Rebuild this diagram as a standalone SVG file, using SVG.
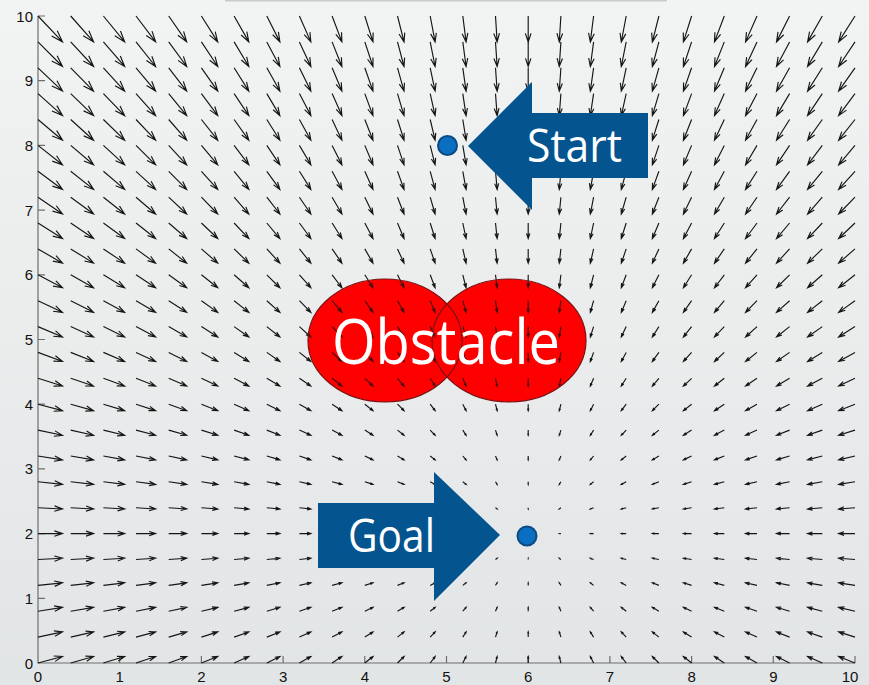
<svg xmlns="http://www.w3.org/2000/svg" xmlns:xlink="http://www.w3.org/1999/xlink" width="869" height="685" viewBox="0 0 869 685">
  <defs>
    <linearGradient id="bg" x1="0" y1="0" x2="0" y2="1">
      <stop offset="0" stop-color="#f2f3f3"/>
      <stop offset="1" stop-color="#e2e5e6"/>
    </linearGradient>
    <!-- unit quiver arrow: tail at origin, tip at (1,0); scaled/rotated per grid point -->
    <path id="v" d="M0 0H1M.67-.11L1 0 .67.11"/>
  </defs>
  <style>
    .tick { font-family: "Liberation Sans", Arial, sans-serif; font-size: 15px; fill: #111; }
    .axis { stroke: #6e6e6e; stroke-width: 1.2; fill: none; }
    .quiver { fill: none; stroke: #151515; stroke-width: 1.15; }
    #v { fill: none; vector-effect: non-scaling-stroke; }
    .obs { fill: #ff0000; }
    .obs-edge { fill: none; stroke: #7a1214; stroke-width: 1.2; }
    .obs-tint { fill: #ff0000; fill-opacity: 0.2; }
    .callout { fill: #04558f; }
    .callout-text { font-family: "Open Sans", "Noto Sans", sans-serif; fill: #ffffff; }
    .pt { fill: #0a6fc2; stroke: #0c4a84; stroke-width: 2; }
  </style>

  <rect width="869" height="685" fill="url(#bg)"/>
  <rect x="225" y="0" width="442" height="1.5" fill="#c9cbcb"/>

  <!-- axes -->
  <g id="axes">
    <path class="axis" d="M38 16V663H855"/>
    <path class="axis" d="M38 598.3h7M38 533.6h7M38 468.9h7M38 404.2h7M38 339.5h7M38 274.8h7M38 210.1h7M38 145.4h7M38 80.7h7M38 16h7"/>
    <path class="axis" d="M119.7 663v-7M201.4 663v-7M283.1 663v-7M364.8 663v-7M446.5 663v-7M528.2 663v-7M609.9 663v-7M691.6 663v-7M773.3 663v-7M855 663v-7"/>
    <g class="tick" text-anchor="end">
      <text x="33" y="668.5">0</text>
      <text x="33" y="603.8">1</text>
      <text x="33" y="539.1">2</text>
      <text x="33" y="474.4">3</text>
      <text x="33" y="409.7">4</text>
      <text x="33" y="345">5</text>
      <text x="33" y="280.3">6</text>
      <text x="33" y="215.6">7</text>
      <text x="33" y="150.9">8</text>
      <text x="33" y="86.2">9</text>
      <text x="33" y="21.5">10</text>
    </g>
    <g class="tick" text-anchor="middle">
      <text x="38" y="681.5">0</text>
      <text x="119.7" y="681.5">1</text>
      <text x="201.4" y="681.5">2</text>
      <text x="283.1" y="681.5">3</text>
      <text x="364.8" y="681.5">4</text>
      <text x="446.5" y="681.5">5</text>
      <text x="528.2" y="681.5">6</text>
      <text x="609.9" y="681.5">7</text>
      <text x="691.6" y="681.5">8</text>
      <text x="773.3" y="681.5">9</text>
      <text x="850" y="681.5">10</text>
    </g>
  </g>

  <!-- obstacle discs (fill under the field) -->
  <g id="obstacle-fill">
    <ellipse class="obs" cx="385" cy="340.5" rx="77" ry="61.5"/>
    <ellipse class="obs" cx="509" cy="340.5" rx="77" ry="61.5"/>
  </g>

  <!-- potential field vectors, one row per y value -->
  <g class="quiver" id="connectors">
    <g transform="translate(0 16)">
      <use href="#v" transform="matrix(24.51 25.88 -25.88 24.51 38 0)"/><use href="#v" transform="matrix(22.88 25.88 -25.88 22.88 70.7 0)"/><use href="#v" transform="matrix(21.24 25.88 -25.88 21.24 103.4 0)"/><use href="#v" transform="matrix(19.61 25.88 -25.88 19.61 136 0)"/><use href="#v" transform="matrix(17.98 25.88 -25.88 17.98 168.7 0)"/><use href="#v" transform="matrix(16.34 25.88 -25.88 16.34 201.4 0)"/><use href="#v" transform="matrix(14.71 25.88 -25.88 14.71 234.1 0)"/><use href="#v" transform="matrix(13.07 25.88 -25.88 13.07 266.8 0)"/><use href="#v" transform="matrix(11.44 25.88 -25.88 11.44 299.4 0)"/><use href="#v" transform="matrix(9.8 25.88 -25.88 9.8 332.1 0)"/><use href="#v" transform="matrix(8.17 25.88 -25.88 8.17 364.8 0)"/><use href="#v" transform="matrix(6.54 25.88 -25.88 6.54 397.5 0)"/><use href="#v" transform="matrix(4.9 25.88 -25.88 4.9 430.2 0)"/><use href="#v" transform="matrix(3.27 25.88 -25.88 3.27 462.8 0)"/><use href="#v" transform="matrix(1.63 25.88 -25.88 1.63 495.5 0)"/><use href="#v" transform="matrix(0 25.88 -25.88 0 528.2 0)"/><use href="#v" transform="matrix(-1.63 25.88 -25.88 -1.63 560.9 0)"/><use href="#v" transform="matrix(-3.27 25.88 -25.88 -3.27 593.6 0)"/><use href="#v" transform="matrix(-4.9 25.88 -25.88 -4.9 626.2 0)"/><use href="#v" transform="matrix(-6.54 25.88 -25.88 -6.54 658.9 0)"/><use href="#v" transform="matrix(-8.17 25.88 -25.88 -8.17 691.6 0)"/><use href="#v" transform="matrix(-9.8 25.88 -25.88 -9.8 724.3 0)"/><use href="#v" transform="matrix(-11.44 25.88 -25.88 -11.44 757 0)"/><use href="#v" transform="matrix(-13.07 25.88 -25.88 -13.07 789.6 0)"/><use href="#v" transform="matrix(-14.71 25.88 -25.88 -14.71 822.3 0)"/><use href="#v" transform="matrix(-16.34 25.88 -25.88 -16.34 855 0)"/>
    </g>
    <g transform="translate(0 41.9)">
      <use href="#v" transform="matrix(24.51 24.59 -24.59 24.51 38 0)"/><use href="#v" transform="matrix(22.88 24.59 -24.59 22.88 70.7 0)"/><use href="#v" transform="matrix(21.24 24.59 -24.59 21.24 103.4 0)"/><use href="#v" transform="matrix(19.61 24.59 -24.59 19.61 136 0)"/><use href="#v" transform="matrix(17.98 24.59 -24.59 17.98 168.7 0)"/><use href="#v" transform="matrix(16.34 24.59 -24.59 16.34 201.4 0)"/><use href="#v" transform="matrix(14.71 24.59 -24.59 14.71 234.1 0)"/><use href="#v" transform="matrix(13.07 24.59 -24.59 13.07 266.8 0)"/><use href="#v" transform="matrix(11.44 24.59 -24.59 11.44 299.4 0)"/><use href="#v" transform="matrix(9.8 24.59 -24.59 9.8 332.1 0)"/><use href="#v" transform="matrix(8.17 24.59 -24.59 8.17 364.8 0)"/><use href="#v" transform="matrix(6.54 24.59 -24.59 6.54 397.5 0)"/><use href="#v" transform="matrix(4.9 24.59 -24.59 4.9 430.2 0)"/><use href="#v" transform="matrix(3.27 24.59 -24.59 3.27 462.8 0)"/><use href="#v" transform="matrix(1.63 24.59 -24.59 1.63 495.5 0)"/><use href="#v" transform="matrix(0 24.59 -24.59 0 528.2 0)"/><use href="#v" transform="matrix(-1.63 24.59 -24.59 -1.63 560.9 0)"/><use href="#v" transform="matrix(-3.27 24.59 -24.59 -3.27 593.6 0)"/><use href="#v" transform="matrix(-4.9 24.59 -24.59 -4.9 626.2 0)"/><use href="#v" transform="matrix(-6.54 24.59 -24.59 -6.54 658.9 0)"/><use href="#v" transform="matrix(-8.17 24.59 -24.59 -8.17 691.6 0)"/><use href="#v" transform="matrix(-9.8 24.59 -24.59 -9.8 724.3 0)"/><use href="#v" transform="matrix(-11.44 24.59 -24.59 -11.44 757 0)"/><use href="#v" transform="matrix(-13.07 24.59 -24.59 -13.07 789.6 0)"/><use href="#v" transform="matrix(-14.71 24.59 -24.59 -14.71 822.3 0)"/><use href="#v" transform="matrix(-16.34 24.59 -24.59 -16.34 855 0)"/>
    </g>
    <g transform="translate(0 67.8)">
      <use href="#v" transform="matrix(24.51 23.29 -23.29 24.51 38 0)"/><use href="#v" transform="matrix(22.88 23.29 -23.29 22.88 70.7 0)"/><use href="#v" transform="matrix(21.24 23.29 -23.29 21.24 103.4 0)"/><use href="#v" transform="matrix(19.61 23.29 -23.29 19.61 136 0)"/><use href="#v" transform="matrix(17.98 23.29 -23.29 17.98 168.7 0)"/><use href="#v" transform="matrix(16.34 23.29 -23.29 16.34 201.4 0)"/><use href="#v" transform="matrix(14.71 23.29 -23.29 14.71 234.1 0)"/><use href="#v" transform="matrix(13.07 23.29 -23.29 13.07 266.8 0)"/><use href="#v" transform="matrix(11.44 23.29 -23.29 11.44 299.4 0)"/><use href="#v" transform="matrix(9.8 23.29 -23.29 9.8 332.1 0)"/><use href="#v" transform="matrix(8.17 23.29 -23.29 8.17 364.8 0)"/><use href="#v" transform="matrix(6.54 23.29 -23.29 6.54 397.5 0)"/><use href="#v" transform="matrix(4.9 23.29 -23.29 4.9 430.2 0)"/><use href="#v" transform="matrix(3.27 23.29 -23.29 3.27 462.8 0)"/><use href="#v" transform="matrix(1.63 23.29 -23.29 1.63 495.5 0)"/><use href="#v" transform="matrix(0 23.29 -23.29 0 528.2 0)"/><use href="#v" transform="matrix(-1.63 23.29 -23.29 -1.63 560.9 0)"/><use href="#v" transform="matrix(-3.27 23.29 -23.29 -3.27 593.6 0)"/><use href="#v" transform="matrix(-4.9 23.29 -23.29 -4.9 626.2 0)"/><use href="#v" transform="matrix(-6.54 23.29 -23.29 -6.54 658.9 0)"/><use href="#v" transform="matrix(-8.17 23.29 -23.29 -8.17 691.6 0)"/><use href="#v" transform="matrix(-9.8 23.29 -23.29 -9.8 724.3 0)"/><use href="#v" transform="matrix(-11.44 23.29 -23.29 -11.44 757 0)"/><use href="#v" transform="matrix(-13.07 23.29 -23.29 -13.07 789.6 0)"/><use href="#v" transform="matrix(-14.71 23.29 -23.29 -14.71 822.3 0)"/><use href="#v" transform="matrix(-16.34 23.29 -23.29 -16.34 855 0)"/>
    </g>
    <g transform="translate(0 93.6)">
      <use href="#v" transform="matrix(24.51 22 -22 24.51 38 0)"/><use href="#v" transform="matrix(22.88 22 -22 22.88 70.7 0)"/><use href="#v" transform="matrix(21.24 22 -22 21.24 103.4 0)"/><use href="#v" transform="matrix(19.61 22 -22 19.61 136 0)"/><use href="#v" transform="matrix(17.98 22 -22 17.98 168.7 0)"/><use href="#v" transform="matrix(16.34 22 -22 16.34 201.4 0)"/><use href="#v" transform="matrix(14.71 22 -22 14.71 234.1 0)"/><use href="#v" transform="matrix(13.07 22 -22 13.07 266.8 0)"/><use href="#v" transform="matrix(11.44 22 -22 11.44 299.4 0)"/><use href="#v" transform="matrix(9.8 22 -22 9.8 332.1 0)"/><use href="#v" transform="matrix(8.17 22 -22 8.17 364.8 0)"/><use href="#v" transform="matrix(6.54 22 -22 6.54 397.5 0)"/><use href="#v" transform="matrix(4.9 22 -22 4.9 430.2 0)"/><use href="#v" transform="matrix(3.27 22 -22 3.27 462.8 0)"/><use href="#v" transform="matrix(1.63 22 -22 1.63 495.5 0)"/><use href="#v" transform="matrix(0 22 -22 0 528.2 0)"/><use href="#v" transform="matrix(-1.63 22 -22 -1.63 560.9 0)"/><use href="#v" transform="matrix(-3.27 22 -22 -3.27 593.6 0)"/><use href="#v" transform="matrix(-4.9 22 -22 -4.9 626.2 0)"/><use href="#v" transform="matrix(-6.54 22 -22 -6.54 658.9 0)"/><use href="#v" transform="matrix(-8.17 22 -22 -8.17 691.6 0)"/><use href="#v" transform="matrix(-9.8 22 -22 -9.8 724.3 0)"/><use href="#v" transform="matrix(-11.44 22 -22 -11.44 757 0)"/><use href="#v" transform="matrix(-13.07 22 -22 -13.07 789.6 0)"/><use href="#v" transform="matrix(-14.71 22 -22 -14.71 822.3 0)"/><use href="#v" transform="matrix(-16.34 22 -22 -16.34 855 0)"/>
    </g>
    <g transform="translate(0 119.5)">
      <use href="#v" transform="matrix(24.51 20.7 -20.7 24.51 38 0)"/><use href="#v" transform="matrix(22.88 20.7 -20.7 22.88 70.7 0)"/><use href="#v" transform="matrix(21.24 20.7 -20.7 21.24 103.4 0)"/><use href="#v" transform="matrix(19.61 20.7 -20.7 19.61 136 0)"/><use href="#v" transform="matrix(17.98 20.7 -20.7 17.98 168.7 0)"/><use href="#v" transform="matrix(16.34 20.7 -20.7 16.34 201.4 0)"/><use href="#v" transform="matrix(14.71 20.7 -20.7 14.71 234.1 0)"/><use href="#v" transform="matrix(13.07 20.7 -20.7 13.07 266.8 0)"/><use href="#v" transform="matrix(11.44 20.7 -20.7 11.44 299.4 0)"/><use href="#v" transform="matrix(9.8 20.7 -20.7 9.8 332.1 0)"/><use href="#v" transform="matrix(8.17 20.7 -20.7 8.17 364.8 0)"/><use href="#v" transform="matrix(6.54 20.7 -20.7 6.54 397.5 0)"/><use href="#v" transform="matrix(4.9 20.7 -20.7 4.9 430.2 0)"/><use href="#v" transform="matrix(3.27 20.7 -20.7 3.27 462.8 0)"/><use href="#v" transform="matrix(1.63 20.7 -20.7 1.63 495.5 0)"/><use href="#v" transform="matrix(0 20.7 -20.7 0 528.2 0)"/><use href="#v" transform="matrix(-1.63 20.7 -20.7 -1.63 560.9 0)"/><use href="#v" transform="matrix(-3.27 20.7 -20.7 -3.27 593.6 0)"/><use href="#v" transform="matrix(-4.9 20.7 -20.7 -4.9 626.2 0)"/><use href="#v" transform="matrix(-6.54 20.7 -20.7 -6.54 658.9 0)"/><use href="#v" transform="matrix(-8.17 20.7 -20.7 -8.17 691.6 0)"/><use href="#v" transform="matrix(-9.8 20.7 -20.7 -9.8 724.3 0)"/><use href="#v" transform="matrix(-11.44 20.7 -20.7 -11.44 757 0)"/><use href="#v" transform="matrix(-13.07 20.7 -20.7 -13.07 789.6 0)"/><use href="#v" transform="matrix(-14.71 20.7 -20.7 -14.71 822.3 0)"/><use href="#v" transform="matrix(-16.34 20.7 -20.7 -16.34 855 0)"/>
    </g>
    <g transform="translate(0 145.4)">
      <use href="#v" transform="matrix(24.51 19.41 -19.41 24.51 38 0)"/><use href="#v" transform="matrix(22.88 19.41 -19.41 22.88 70.7 0)"/><use href="#v" transform="matrix(21.24 19.41 -19.41 21.24 103.4 0)"/><use href="#v" transform="matrix(19.61 19.41 -19.41 19.61 136 0)"/><use href="#v" transform="matrix(17.98 19.41 -19.41 17.98 168.7 0)"/><use href="#v" transform="matrix(16.34 19.41 -19.41 16.34 201.4 0)"/><use href="#v" transform="matrix(14.71 19.41 -19.41 14.71 234.1 0)"/><use href="#v" transform="matrix(13.07 19.41 -19.41 13.07 266.8 0)"/><use href="#v" transform="matrix(11.44 19.41 -19.41 11.44 299.4 0)"/><use href="#v" transform="matrix(9.8 19.41 -19.41 9.8 332.1 0)"/><use href="#v" transform="matrix(8.17 19.41 -19.41 8.17 364.8 0)"/><use href="#v" transform="matrix(6.54 19.41 -19.41 6.54 397.5 0)"/><use href="#v" transform="matrix(4.9 19.41 -19.41 4.9 430.2 0)"/><use href="#v" transform="matrix(3.27 19.41 -19.41 3.27 462.8 0)"/><use href="#v" transform="matrix(1.63 19.41 -19.41 1.63 495.5 0)"/><use href="#v" transform="matrix(0 19.41 -19.41 0 528.2 0)"/><use href="#v" transform="matrix(-1.63 19.41 -19.41 -1.63 560.9 0)"/><use href="#v" transform="matrix(-3.27 19.41 -19.41 -3.27 593.6 0)"/><use href="#v" transform="matrix(-4.9 19.41 -19.41 -4.9 626.2 0)"/><use href="#v" transform="matrix(-6.54 19.41 -19.41 -6.54 658.9 0)"/><use href="#v" transform="matrix(-8.17 19.41 -19.41 -8.17 691.6 0)"/><use href="#v" transform="matrix(-9.8 19.41 -19.41 -9.8 724.3 0)"/><use href="#v" transform="matrix(-11.44 19.41 -19.41 -11.44 757 0)"/><use href="#v" transform="matrix(-13.07 19.41 -19.41 -13.07 789.6 0)"/><use href="#v" transform="matrix(-14.71 19.41 -19.41 -14.71 822.3 0)"/><use href="#v" transform="matrix(-16.34 19.41 -19.41 -16.34 855 0)"/>
    </g>
    <g transform="translate(0 171.3)">
      <use href="#v" transform="matrix(24.51 18.12 -18.12 24.51 38 0)"/><use href="#v" transform="matrix(22.88 18.12 -18.12 22.88 70.7 0)"/><use href="#v" transform="matrix(21.24 18.12 -18.12 21.24 103.4 0)"/><use href="#v" transform="matrix(19.61 18.12 -18.12 19.61 136 0)"/><use href="#v" transform="matrix(17.98 18.12 -18.12 17.98 168.7 0)"/><use href="#v" transform="matrix(16.34 18.12 -18.12 16.34 201.4 0)"/><use href="#v" transform="matrix(14.71 18.12 -18.12 14.71 234.1 0)"/><use href="#v" transform="matrix(13.07 18.12 -18.12 13.07 266.8 0)"/><use href="#v" transform="matrix(11.44 18.12 -18.12 11.44 299.4 0)"/><use href="#v" transform="matrix(9.8 18.12 -18.12 9.8 332.1 0)"/><use href="#v" transform="matrix(8.17 18.12 -18.12 8.17 364.8 0)"/><use href="#v" transform="matrix(6.54 18.12 -18.12 6.54 397.5 0)"/><use href="#v" transform="matrix(4.9 18.12 -18.12 4.9 430.2 0)"/><use href="#v" transform="matrix(3.27 18.12 -18.12 3.27 462.8 0)"/><use href="#v" transform="matrix(1.63 18.12 -18.12 1.63 495.5 0)"/><use href="#v" transform="matrix(0 18.12 -18.12 0 528.2 0)"/><use href="#v" transform="matrix(-1.63 18.12 -18.12 -1.63 560.9 0)"/><use href="#v" transform="matrix(-3.27 18.12 -18.12 -3.27 593.6 0)"/><use href="#v" transform="matrix(-4.9 18.12 -18.12 -4.9 626.2 0)"/><use href="#v" transform="matrix(-6.54 18.12 -18.12 -6.54 658.9 0)"/><use href="#v" transform="matrix(-8.17 18.12 -18.12 -8.17 691.6 0)"/><use href="#v" transform="matrix(-9.8 18.12 -18.12 -9.8 724.3 0)"/><use href="#v" transform="matrix(-11.44 18.12 -18.12 -11.44 757 0)"/><use href="#v" transform="matrix(-13.07 18.12 -18.12 -13.07 789.6 0)"/><use href="#v" transform="matrix(-14.71 18.12 -18.12 -14.71 822.3 0)"/><use href="#v" transform="matrix(-16.34 18.12 -18.12 -16.34 855 0)"/>
    </g>
    <g transform="translate(0 197.2)">
      <use href="#v" transform="matrix(24.51 16.82 -16.82 24.51 38 0)"/><use href="#v" transform="matrix(22.88 16.82 -16.82 22.88 70.7 0)"/><use href="#v" transform="matrix(21.24 16.82 -16.82 21.24 103.4 0)"/><use href="#v" transform="matrix(19.61 16.82 -16.82 19.61 136 0)"/><use href="#v" transform="matrix(17.98 16.82 -16.82 17.98 168.7 0)"/><use href="#v" transform="matrix(16.34 16.82 -16.82 16.34 201.4 0)"/><use href="#v" transform="matrix(14.71 16.82 -16.82 14.71 234.1 0)"/><use href="#v" transform="matrix(13.07 16.82 -16.82 13.07 266.8 0)"/><use href="#v" transform="matrix(11.44 16.82 -16.82 11.44 299.4 0)"/><use href="#v" transform="matrix(9.8 16.82 -16.82 9.8 332.1 0)"/><use href="#v" transform="matrix(8.17 16.82 -16.82 8.17 364.8 0)"/><use href="#v" transform="matrix(6.54 16.82 -16.82 6.54 397.5 0)"/><use href="#v" transform="matrix(4.9 16.82 -16.82 4.9 430.2 0)"/><use href="#v" transform="matrix(3.27 16.82 -16.82 3.27 462.8 0)"/><use href="#v" transform="matrix(1.63 16.82 -16.82 1.63 495.5 0)"/><use href="#v" transform="matrix(0 16.82 -16.82 0 528.2 0)"/><use href="#v" transform="matrix(-1.63 16.82 -16.82 -1.63 560.9 0)"/><use href="#v" transform="matrix(-3.27 16.82 -16.82 -3.27 593.6 0)"/><use href="#v" transform="matrix(-4.9 16.82 -16.82 -4.9 626.2 0)"/><use href="#v" transform="matrix(-6.54 16.82 -16.82 -6.54 658.9 0)"/><use href="#v" transform="matrix(-8.17 16.82 -16.82 -8.17 691.6 0)"/><use href="#v" transform="matrix(-9.8 16.82 -16.82 -9.8 724.3 0)"/><use href="#v" transform="matrix(-11.44 16.82 -16.82 -11.44 757 0)"/><use href="#v" transform="matrix(-13.07 16.82 -16.82 -13.07 789.6 0)"/><use href="#v" transform="matrix(-14.71 16.82 -16.82 -14.71 822.3 0)"/><use href="#v" transform="matrix(-16.34 16.82 -16.82 -16.34 855 0)"/>
    </g>
    <g transform="translate(0 223)">
      <use href="#v" transform="matrix(24.51 15.53 -15.53 24.51 38 0)"/><use href="#v" transform="matrix(22.88 15.53 -15.53 22.88 70.7 0)"/><use href="#v" transform="matrix(21.24 15.53 -15.53 21.24 103.4 0)"/><use href="#v" transform="matrix(19.61 15.53 -15.53 19.61 136 0)"/><use href="#v" transform="matrix(17.98 15.53 -15.53 17.98 168.7 0)"/><use href="#v" transform="matrix(16.34 15.53 -15.53 16.34 201.4 0)"/><use href="#v" transform="matrix(14.71 15.53 -15.53 14.71 234.1 0)"/><use href="#v" transform="matrix(13.07 15.53 -15.53 13.07 266.8 0)"/><use href="#v" transform="matrix(11.44 15.53 -15.53 11.44 299.4 0)"/><use href="#v" transform="matrix(9.8 15.53 -15.53 9.8 332.1 0)"/><use href="#v" transform="matrix(8.17 15.53 -15.53 8.17 364.8 0)"/><use href="#v" transform="matrix(6.54 15.53 -15.53 6.54 397.5 0)"/><use href="#v" transform="matrix(4.9 15.53 -15.53 4.9 430.2 0)"/><use href="#v" transform="matrix(3.27 15.53 -15.53 3.27 462.8 0)"/><use href="#v" transform="matrix(1.63 15.53 -15.53 1.63 495.5 0)"/><use href="#v" transform="matrix(0 15.53 -15.53 0 528.2 0)"/><use href="#v" transform="matrix(-1.63 15.53 -15.53 -1.63 560.9 0)"/><use href="#v" transform="matrix(-3.27 15.53 -15.53 -3.27 593.6 0)"/><use href="#v" transform="matrix(-4.9 15.53 -15.53 -4.9 626.2 0)"/><use href="#v" transform="matrix(-6.54 15.53 -15.53 -6.54 658.9 0)"/><use href="#v" transform="matrix(-8.17 15.53 -15.53 -8.17 691.6 0)"/><use href="#v" transform="matrix(-9.8 15.53 -15.53 -9.8 724.3 0)"/><use href="#v" transform="matrix(-11.44 15.53 -15.53 -11.44 757 0)"/><use href="#v" transform="matrix(-13.07 15.53 -15.53 -13.07 789.6 0)"/><use href="#v" transform="matrix(-14.71 15.53 -15.53 -14.71 822.3 0)"/><use href="#v" transform="matrix(-16.34 15.53 -15.53 -16.34 855 0)"/>
    </g>
    <g transform="translate(0 248.9)">
      <use href="#v" transform="matrix(24.51 14.23 -14.23 24.51 38 0)"/><use href="#v" transform="matrix(22.88 14.23 -14.23 22.88 70.7 0)"/><use href="#v" transform="matrix(21.24 14.23 -14.23 21.24 103.4 0)"/><use href="#v" transform="matrix(19.61 14.23 -14.23 19.61 136 0)"/><use href="#v" transform="matrix(17.98 14.23 -14.23 17.98 168.7 0)"/><use href="#v" transform="matrix(16.34 14.23 -14.23 16.34 201.4 0)"/><use href="#v" transform="matrix(14.71 14.23 -14.23 14.71 234.1 0)"/><use href="#v" transform="matrix(13.07 14.23 -14.23 13.07 266.8 0)"/><use href="#v" transform="matrix(11.44 14.23 -14.23 11.44 299.4 0)"/><use href="#v" transform="matrix(9.8 14.23 -14.23 9.8 332.1 0)"/><use href="#v" transform="matrix(8.17 14.23 -14.23 8.17 364.8 0)"/><use href="#v" transform="matrix(6.54 14.23 -14.23 6.54 397.5 0)"/><use href="#v" transform="matrix(4.9 14.23 -14.23 4.9 430.2 0)"/><use href="#v" transform="matrix(3.27 14.23 -14.23 3.27 462.8 0)"/><use href="#v" transform="matrix(1.63 14.23 -14.23 1.63 495.5 0)"/><use href="#v" transform="matrix(0 14.23 -14.23 0 528.2 0)"/><use href="#v" transform="matrix(-1.63 14.23 -14.23 -1.63 560.9 0)"/><use href="#v" transform="matrix(-3.27 14.23 -14.23 -3.27 593.6 0)"/><use href="#v" transform="matrix(-4.9 14.23 -14.23 -4.9 626.2 0)"/><use href="#v" transform="matrix(-6.54 14.23 -14.23 -6.54 658.9 0)"/><use href="#v" transform="matrix(-8.17 14.23 -14.23 -8.17 691.6 0)"/><use href="#v" transform="matrix(-9.8 14.23 -14.23 -9.8 724.3 0)"/><use href="#v" transform="matrix(-11.44 14.23 -14.23 -11.44 757 0)"/><use href="#v" transform="matrix(-13.07 14.23 -14.23 -13.07 789.6 0)"/><use href="#v" transform="matrix(-14.71 14.23 -14.23 -14.71 822.3 0)"/><use href="#v" transform="matrix(-16.34 14.23 -14.23 -16.34 855 0)"/>
    </g>
    <g transform="translate(0 274.8)">
      <use href="#v" transform="matrix(24.51 12.94 -12.94 24.51 38 0)"/><use href="#v" transform="matrix(22.88 12.94 -12.94 22.88 70.7 0)"/><use href="#v" transform="matrix(21.24 12.94 -12.94 21.24 103.4 0)"/><use href="#v" transform="matrix(19.61 12.94 -12.94 19.61 136 0)"/><use href="#v" transform="matrix(17.98 12.94 -12.94 17.98 168.7 0)"/><use href="#v" transform="matrix(16.34 12.94 -12.94 16.34 201.4 0)"/><use href="#v" transform="matrix(14.71 12.94 -12.94 14.71 234.1 0)"/><use href="#v" transform="matrix(13.07 12.94 -12.94 13.07 266.8 0)"/><use href="#v" transform="matrix(11.44 12.94 -12.94 11.44 299.4 0)"/><use href="#v" transform="matrix(9.8 12.94 -12.94 9.8 332.1 0)"/><use href="#v" transform="matrix(8.17 12.94 -12.94 8.17 364.8 0)"/><use href="#v" transform="matrix(6.54 12.94 -12.94 6.54 397.5 0)"/><use href="#v" transform="matrix(4.9 12.94 -12.94 4.9 430.2 0)"/><use href="#v" transform="matrix(3.27 12.94 -12.94 3.27 462.8 0)"/><use href="#v" transform="matrix(1.63 12.94 -12.94 1.63 495.5 0)"/><use href="#v" transform="matrix(0 12.94 -12.94 0 528.2 0)"/><use href="#v" transform="matrix(-1.63 12.94 -12.94 -1.63 560.9 0)"/><use href="#v" transform="matrix(-3.27 12.94 -12.94 -3.27 593.6 0)"/><use href="#v" transform="matrix(-4.9 12.94 -12.94 -4.9 626.2 0)"/><use href="#v" transform="matrix(-6.54 12.94 -12.94 -6.54 658.9 0)"/><use href="#v" transform="matrix(-8.17 12.94 -12.94 -8.17 691.6 0)"/><use href="#v" transform="matrix(-9.8 12.94 -12.94 -9.8 724.3 0)"/><use href="#v" transform="matrix(-11.44 12.94 -12.94 -11.44 757 0)"/><use href="#v" transform="matrix(-13.07 12.94 -12.94 -13.07 789.6 0)"/><use href="#v" transform="matrix(-14.71 12.94 -12.94 -14.71 822.3 0)"/><use href="#v" transform="matrix(-16.34 12.94 -12.94 -16.34 855 0)"/>
    </g>
    <g transform="translate(0 300.7)">
      <use href="#v" transform="matrix(24.51 11.65 -11.65 24.51 38 0)"/><use href="#v" transform="matrix(22.88 11.65 -11.65 22.88 70.7 0)"/><use href="#v" transform="matrix(21.24 11.65 -11.65 21.24 103.4 0)"/><use href="#v" transform="matrix(19.61 11.65 -11.65 19.61 136 0)"/><use href="#v" transform="matrix(17.98 11.65 -11.65 17.98 168.7 0)"/><use href="#v" transform="matrix(16.34 11.65 -11.65 16.34 201.4 0)"/><use href="#v" transform="matrix(14.71 11.65 -11.65 14.71 234.1 0)"/><use href="#v" transform="matrix(13.07 11.65 -11.65 13.07 266.8 0)"/><use href="#v" transform="matrix(11.44 11.65 -11.65 11.44 299.4 0)"/><use href="#v" transform="matrix(9.8 11.65 -11.65 9.8 332.1 0)"/><use href="#v" transform="matrix(8.17 11.65 -11.65 8.17 364.8 0)"/><use href="#v" transform="matrix(6.54 11.65 -11.65 6.54 397.5 0)"/><use href="#v" transform="matrix(4.9 11.65 -11.65 4.9 430.2 0)"/><use href="#v" transform="matrix(3.27 11.65 -11.65 3.27 462.8 0)"/><use href="#v" transform="matrix(1.63 11.65 -11.65 1.63 495.5 0)"/><use href="#v" transform="matrix(0 11.65 -11.65 0 528.2 0)"/><use href="#v" transform="matrix(-1.63 11.65 -11.65 -1.63 560.9 0)"/><use href="#v" transform="matrix(-3.27 11.65 -11.65 -3.27 593.6 0)"/><use href="#v" transform="matrix(-4.9 11.65 -11.65 -4.9 626.2 0)"/><use href="#v" transform="matrix(-6.54 11.65 -11.65 -6.54 658.9 0)"/><use href="#v" transform="matrix(-8.17 11.65 -11.65 -8.17 691.6 0)"/><use href="#v" transform="matrix(-9.8 11.65 -11.65 -9.8 724.3 0)"/><use href="#v" transform="matrix(-11.44 11.65 -11.65 -11.44 757 0)"/><use href="#v" transform="matrix(-13.07 11.65 -11.65 -13.07 789.6 0)"/><use href="#v" transform="matrix(-14.71 11.65 -11.65 -14.71 822.3 0)"/><use href="#v" transform="matrix(-16.34 11.65 -11.65 -16.34 855 0)"/>
    </g>
    <g transform="translate(0 326.6)">
      <use href="#v" transform="matrix(24.51 10.35 -10.35 24.51 38 0)"/><use href="#v" transform="matrix(22.88 10.35 -10.35 22.88 70.7 0)"/><use href="#v" transform="matrix(21.24 10.35 -10.35 21.24 103.4 0)"/><use href="#v" transform="matrix(19.61 10.35 -10.35 19.61 136 0)"/><use href="#v" transform="matrix(17.98 10.35 -10.35 17.98 168.7 0)"/><use href="#v" transform="matrix(16.34 10.35 -10.35 16.34 201.4 0)"/><use href="#v" transform="matrix(14.71 10.35 -10.35 14.71 234.1 0)"/><use href="#v" transform="matrix(13.07 10.35 -10.35 13.07 266.8 0)"/><use href="#v" transform="matrix(11.44 10.35 -10.35 11.44 299.4 0)"/><use href="#v" transform="matrix(9.8 10.35 -10.35 9.8 332.1 0)"/><use href="#v" transform="matrix(8.17 10.35 -10.35 8.17 364.8 0)"/><use href="#v" transform="matrix(6.54 10.35 -10.35 6.54 397.5 0)"/><use href="#v" transform="matrix(4.9 10.35 -10.35 4.9 430.2 0)"/><use href="#v" transform="matrix(3.27 10.35 -10.35 3.27 462.8 0)"/><use href="#v" transform="matrix(1.63 10.35 -10.35 1.63 495.5 0)"/><use href="#v" transform="matrix(0 10.35 -10.35 0 528.2 0)"/><use href="#v" transform="matrix(-1.63 10.35 -10.35 -1.63 560.9 0)"/><use href="#v" transform="matrix(-3.27 10.35 -10.35 -3.27 593.6 0)"/><use href="#v" transform="matrix(-4.9 10.35 -10.35 -4.9 626.2 0)"/><use href="#v" transform="matrix(-6.54 10.35 -10.35 -6.54 658.9 0)"/><use href="#v" transform="matrix(-8.17 10.35 -10.35 -8.17 691.6 0)"/><use href="#v" transform="matrix(-9.8 10.35 -10.35 -9.8 724.3 0)"/><use href="#v" transform="matrix(-11.44 10.35 -10.35 -11.44 757 0)"/><use href="#v" transform="matrix(-13.07 10.35 -10.35 -13.07 789.6 0)"/><use href="#v" transform="matrix(-14.71 10.35 -10.35 -14.71 822.3 0)"/><use href="#v" transform="matrix(-16.34 10.35 -10.35 -16.34 855 0)"/>
    </g>
    <g transform="translate(0 352.4)">
      <use href="#v" transform="matrix(24.51 9.06 -9.06 24.51 38 0)"/><use href="#v" transform="matrix(22.88 9.06 -9.06 22.88 70.7 0)"/><use href="#v" transform="matrix(21.24 9.06 -9.06 21.24 103.4 0)"/><use href="#v" transform="matrix(19.61 9.06 -9.06 19.61 136 0)"/><use href="#v" transform="matrix(17.98 9.06 -9.06 17.98 168.7 0)"/><use href="#v" transform="matrix(16.34 9.06 -9.06 16.34 201.4 0)"/><use href="#v" transform="matrix(14.71 9.06 -9.06 14.71 234.1 0)"/><use href="#v" transform="matrix(13.07 9.06 -9.06 13.07 266.8 0)"/><use href="#v" transform="matrix(11.44 9.06 -9.06 11.44 299.4 0)"/><use href="#v" transform="matrix(9.8 9.06 -9.06 9.8 332.1 0)"/><use href="#v" transform="matrix(8.17 9.06 -9.06 8.17 364.8 0)"/><use href="#v" transform="matrix(6.54 9.06 -9.06 6.54 397.5 0)"/><use href="#v" transform="matrix(4.9 9.06 -9.06 4.9 430.2 0)"/><use href="#v" transform="matrix(3.27 9.06 -9.06 3.27 462.8 0)"/><use href="#v" transform="matrix(1.63 9.06 -9.06 1.63 495.5 0)"/><use href="#v" transform="matrix(0 9.06 -9.06 0 528.2 0)"/><use href="#v" transform="matrix(-1.63 9.06 -9.06 -1.63 560.9 0)"/><use href="#v" transform="matrix(-3.27 9.06 -9.06 -3.27 593.6 0)"/><use href="#v" transform="matrix(-4.9 9.06 -9.06 -4.9 626.2 0)"/><use href="#v" transform="matrix(-6.54 9.06 -9.06 -6.54 658.9 0)"/><use href="#v" transform="matrix(-8.17 9.06 -9.06 -8.17 691.6 0)"/><use href="#v" transform="matrix(-9.8 9.06 -9.06 -9.8 724.3 0)"/><use href="#v" transform="matrix(-11.44 9.06 -9.06 -11.44 757 0)"/><use href="#v" transform="matrix(-13.07 9.06 -9.06 -13.07 789.6 0)"/><use href="#v" transform="matrix(-14.71 9.06 -9.06 -14.71 822.3 0)"/><use href="#v" transform="matrix(-16.34 9.06 -9.06 -16.34 855 0)"/>
    </g>
    <g transform="translate(0 378.3)">
      <use href="#v" transform="matrix(24.51 7.76 -7.76 24.51 38 0)"/><use href="#v" transform="matrix(22.88 7.76 -7.76 22.88 70.7 0)"/><use href="#v" transform="matrix(21.24 7.76 -7.76 21.24 103.4 0)"/><use href="#v" transform="matrix(19.61 7.76 -7.76 19.61 136 0)"/><use href="#v" transform="matrix(17.98 7.76 -7.76 17.98 168.7 0)"/><use href="#v" transform="matrix(16.34 7.76 -7.76 16.34 201.4 0)"/><use href="#v" transform="matrix(14.71 7.76 -7.76 14.71 234.1 0)"/><use href="#v" transform="matrix(13.07 7.76 -7.76 13.07 266.8 0)"/><use href="#v" transform="matrix(11.44 7.76 -7.76 11.44 299.4 0)"/><use href="#v" transform="matrix(9.8 7.76 -7.76 9.8 332.1 0)"/><use href="#v" transform="matrix(8.17 7.76 -7.76 8.17 364.8 0)"/><use href="#v" transform="matrix(6.54 7.76 -7.76 6.54 397.5 0)"/><use href="#v" transform="matrix(4.9 7.76 -7.76 4.9 430.2 0)"/><use href="#v" transform="matrix(3.27 7.76 -7.76 3.27 462.8 0)"/><use href="#v" transform="matrix(1.63 7.76 -7.76 1.63 495.5 0)"/><use href="#v" transform="matrix(0 7.76 -7.76 0 528.2 0)"/><use href="#v" transform="matrix(-1.63 7.76 -7.76 -1.63 560.9 0)"/><use href="#v" transform="matrix(-3.27 7.76 -7.76 -3.27 593.6 0)"/><use href="#v" transform="matrix(-4.9 7.76 -7.76 -4.9 626.2 0)"/><use href="#v" transform="matrix(-6.54 7.76 -7.76 -6.54 658.9 0)"/><use href="#v" transform="matrix(-8.17 7.76 -7.76 -8.17 691.6 0)"/><use href="#v" transform="matrix(-9.8 7.76 -7.76 -9.8 724.3 0)"/><use href="#v" transform="matrix(-11.44 7.76 -7.76 -11.44 757 0)"/><use href="#v" transform="matrix(-13.07 7.76 -7.76 -13.07 789.6 0)"/><use href="#v" transform="matrix(-14.71 7.76 -7.76 -14.71 822.3 0)"/><use href="#v" transform="matrix(-16.34 7.76 -7.76 -16.34 855 0)"/>
    </g>
    <g transform="translate(0 404.2)">
      <use href="#v" transform="matrix(24.51 6.47 -6.47 24.51 38 0)"/><use href="#v" transform="matrix(22.88 6.47 -6.47 22.88 70.7 0)"/><use href="#v" transform="matrix(21.24 6.47 -6.47 21.24 103.4 0)"/><use href="#v" transform="matrix(19.61 6.47 -6.47 19.61 136 0)"/><use href="#v" transform="matrix(17.98 6.47 -6.47 17.98 168.7 0)"/><use href="#v" transform="matrix(16.34 6.47 -6.47 16.34 201.4 0)"/><use href="#v" transform="matrix(14.71 6.47 -6.47 14.71 234.1 0)"/><use href="#v" transform="matrix(13.07 6.47 -6.47 13.07 266.8 0)"/><use href="#v" transform="matrix(11.44 6.47 -6.47 11.44 299.4 0)"/><use href="#v" transform="matrix(9.8 6.47 -6.47 9.8 332.1 0)"/><use href="#v" transform="matrix(8.17 6.47 -6.47 8.17 364.8 0)"/><use href="#v" transform="matrix(6.54 6.47 -6.47 6.54 397.5 0)"/><use href="#v" transform="matrix(4.9 6.47 -6.47 4.9 430.2 0)"/><use href="#v" transform="matrix(3.27 6.47 -6.47 3.27 462.8 0)"/><use href="#v" transform="matrix(1.63 6.47 -6.47 1.63 495.5 0)"/><use href="#v" transform="matrix(0 6.47 -6.47 0 528.2 0)"/><use href="#v" transform="matrix(-1.63 6.47 -6.47 -1.63 560.9 0)"/><use href="#v" transform="matrix(-3.27 6.47 -6.47 -3.27 593.6 0)"/><use href="#v" transform="matrix(-4.9 6.47 -6.47 -4.9 626.2 0)"/><use href="#v" transform="matrix(-6.54 6.47 -6.47 -6.54 658.9 0)"/><use href="#v" transform="matrix(-8.17 6.47 -6.47 -8.17 691.6 0)"/><use href="#v" transform="matrix(-9.8 6.47 -6.47 -9.8 724.3 0)"/><use href="#v" transform="matrix(-11.44 6.47 -6.47 -11.44 757 0)"/><use href="#v" transform="matrix(-13.07 6.47 -6.47 -13.07 789.6 0)"/><use href="#v" transform="matrix(-14.71 6.47 -6.47 -14.71 822.3 0)"/><use href="#v" transform="matrix(-16.34 6.47 -6.47 -16.34 855 0)"/>
    </g>
    <g transform="translate(0 430.1)">
      <use href="#v" transform="matrix(24.51 5.18 -5.18 24.51 38 0)"/><use href="#v" transform="matrix(22.88 5.18 -5.18 22.88 70.7 0)"/><use href="#v" transform="matrix(21.24 5.18 -5.18 21.24 103.4 0)"/><use href="#v" transform="matrix(19.61 5.18 -5.18 19.61 136 0)"/><use href="#v" transform="matrix(17.98 5.18 -5.18 17.98 168.7 0)"/><use href="#v" transform="matrix(16.34 5.18 -5.18 16.34 201.4 0)"/><use href="#v" transform="matrix(14.71 5.18 -5.18 14.71 234.1 0)"/><use href="#v" transform="matrix(13.07 5.18 -5.18 13.07 266.8 0)"/><use href="#v" transform="matrix(11.44 5.18 -5.18 11.44 299.4 0)"/><use href="#v" transform="matrix(9.8 5.18 -5.18 9.8 332.1 0)"/><use href="#v" transform="matrix(8.17 5.18 -5.18 8.17 364.8 0)"/><use href="#v" transform="matrix(6.54 5.18 -5.18 6.54 397.5 0)"/><use href="#v" transform="matrix(4.9 5.18 -5.18 4.9 430.2 0)"/><use href="#v" transform="matrix(3.27 5.18 -5.18 3.27 462.8 0)"/><use href="#v" transform="matrix(1.63 5.18 -5.18 1.63 495.5 0)"/><use href="#v" transform="matrix(0 5.18 -5.18 0 528.2 0)"/><use href="#v" transform="matrix(-1.63 5.18 -5.18 -1.63 560.9 0)"/><use href="#v" transform="matrix(-3.27 5.18 -5.18 -3.27 593.6 0)"/><use href="#v" transform="matrix(-4.9 5.18 -5.18 -4.9 626.2 0)"/><use href="#v" transform="matrix(-6.54 5.18 -5.18 -6.54 658.9 0)"/><use href="#v" transform="matrix(-8.17 5.18 -5.18 -8.17 691.6 0)"/><use href="#v" transform="matrix(-9.8 5.18 -5.18 -9.8 724.3 0)"/><use href="#v" transform="matrix(-11.44 5.18 -5.18 -11.44 757 0)"/><use href="#v" transform="matrix(-13.07 5.18 -5.18 -13.07 789.6 0)"/><use href="#v" transform="matrix(-14.71 5.18 -5.18 -14.71 822.3 0)"/><use href="#v" transform="matrix(-16.34 5.18 -5.18 -16.34 855 0)"/>
    </g>
    <g transform="translate(0 456)">
      <use href="#v" transform="matrix(24.51 3.88 -3.88 24.51 38 0)"/><use href="#v" transform="matrix(22.88 3.88 -3.88 22.88 70.7 0)"/><use href="#v" transform="matrix(21.24 3.88 -3.88 21.24 103.4 0)"/><use href="#v" transform="matrix(19.61 3.88 -3.88 19.61 136 0)"/><use href="#v" transform="matrix(17.98 3.88 -3.88 17.98 168.7 0)"/><use href="#v" transform="matrix(16.34 3.88 -3.88 16.34 201.4 0)"/><use href="#v" transform="matrix(14.71 3.88 -3.88 14.71 234.1 0)"/><use href="#v" transform="matrix(13.07 3.88 -3.88 13.07 266.8 0)"/><use href="#v" transform="matrix(11.44 3.88 -3.88 11.44 299.4 0)"/><use href="#v" transform="matrix(9.8 3.88 -3.88 9.8 332.1 0)"/><use href="#v" transform="matrix(8.17 3.88 -3.88 8.17 364.8 0)"/><use href="#v" transform="matrix(6.54 3.88 -3.88 6.54 397.5 0)"/><use href="#v" transform="matrix(4.9 3.88 -3.88 4.9 430.2 0)"/><use href="#v" transform="matrix(3.27 3.88 -3.88 3.27 462.8 0)"/><use href="#v" transform="matrix(1.63 3.88 -3.88 1.63 495.5 0)"/><use href="#v" transform="matrix(0 3.88 -3.88 0 528.2 0)"/><use href="#v" transform="matrix(-1.63 3.88 -3.88 -1.63 560.9 0)"/><use href="#v" transform="matrix(-3.27 3.88 -3.88 -3.27 593.6 0)"/><use href="#v" transform="matrix(-4.9 3.88 -3.88 -4.9 626.2 0)"/><use href="#v" transform="matrix(-6.54 3.88 -3.88 -6.54 658.9 0)"/><use href="#v" transform="matrix(-8.17 3.88 -3.88 -8.17 691.6 0)"/><use href="#v" transform="matrix(-9.8 3.88 -3.88 -9.8 724.3 0)"/><use href="#v" transform="matrix(-11.44 3.88 -3.88 -11.44 757 0)"/><use href="#v" transform="matrix(-13.07 3.88 -3.88 -13.07 789.6 0)"/><use href="#v" transform="matrix(-14.71 3.88 -3.88 -14.71 822.3 0)"/><use href="#v" transform="matrix(-16.34 3.88 -3.88 -16.34 855 0)"/>
    </g>
    <g transform="translate(0 481.8)">
      <use href="#v" transform="matrix(24.51 2.59 -2.59 24.51 38 0)"/><use href="#v" transform="matrix(22.88 2.59 -2.59 22.88 70.7 0)"/><use href="#v" transform="matrix(21.24 2.59 -2.59 21.24 103.4 0)"/><use href="#v" transform="matrix(19.61 2.59 -2.59 19.61 136 0)"/><use href="#v" transform="matrix(17.98 2.59 -2.59 17.98 168.7 0)"/><use href="#v" transform="matrix(16.34 2.59 -2.59 16.34 201.4 0)"/><use href="#v" transform="matrix(14.71 2.59 -2.59 14.71 234.1 0)"/><use href="#v" transform="matrix(13.07 2.59 -2.59 13.07 266.8 0)"/><use href="#v" transform="matrix(11.44 2.59 -2.59 11.44 299.4 0)"/><use href="#v" transform="matrix(9.8 2.59 -2.59 9.8 332.1 0)"/><use href="#v" transform="matrix(8.17 2.59 -2.59 8.17 364.8 0)"/><use href="#v" transform="matrix(6.54 2.59 -2.59 6.54 397.5 0)"/><use href="#v" transform="matrix(4.9 2.59 -2.59 4.9 430.2 0)"/><use href="#v" transform="matrix(3.27 2.59 -2.59 3.27 462.8 0)"/><use href="#v" transform="matrix(1.63 2.59 -2.59 1.63 495.5 0)"/><use href="#v" transform="matrix(0 2.59 -2.59 0 528.2 0)"/><use href="#v" transform="matrix(-1.63 2.59 -2.59 -1.63 560.9 0)"/><use href="#v" transform="matrix(-3.27 2.59 -2.59 -3.27 593.6 0)"/><use href="#v" transform="matrix(-4.9 2.59 -2.59 -4.9 626.2 0)"/><use href="#v" transform="matrix(-6.54 2.59 -2.59 -6.54 658.9 0)"/><use href="#v" transform="matrix(-8.17 2.59 -2.59 -8.17 691.6 0)"/><use href="#v" transform="matrix(-9.8 2.59 -2.59 -9.8 724.3 0)"/><use href="#v" transform="matrix(-11.44 2.59 -2.59 -11.44 757 0)"/><use href="#v" transform="matrix(-13.07 2.59 -2.59 -13.07 789.6 0)"/><use href="#v" transform="matrix(-14.71 2.59 -2.59 -14.71 822.3 0)"/><use href="#v" transform="matrix(-16.34 2.59 -2.59 -16.34 855 0)"/>
    </g>
    <g transform="translate(0 507.7)">
      <use href="#v" transform="matrix(24.51 1.29 -1.29 24.51 38 0)"/><use href="#v" transform="matrix(22.88 1.29 -1.29 22.88 70.7 0)"/><use href="#v" transform="matrix(21.24 1.29 -1.29 21.24 103.4 0)"/><use href="#v" transform="matrix(19.61 1.29 -1.29 19.61 136 0)"/><use href="#v" transform="matrix(17.98 1.29 -1.29 17.98 168.7 0)"/><use href="#v" transform="matrix(16.34 1.29 -1.29 16.34 201.4 0)"/><use href="#v" transform="matrix(14.71 1.29 -1.29 14.71 234.1 0)"/><use href="#v" transform="matrix(13.07 1.29 -1.29 13.07 266.8 0)"/><use href="#v" transform="matrix(11.44 1.29 -1.29 11.44 299.4 0)"/><use href="#v" transform="matrix(9.8 1.29 -1.29 9.8 332.1 0)"/><use href="#v" transform="matrix(8.17 1.29 -1.29 8.17 364.8 0)"/><use href="#v" transform="matrix(6.54 1.29 -1.29 6.54 397.5 0)"/><use href="#v" transform="matrix(4.9 1.29 -1.29 4.9 430.2 0)"/><use href="#v" transform="matrix(3.27 1.29 -1.29 3.27 462.8 0)"/><use href="#v" transform="matrix(1.63 1.29 -1.29 1.63 495.5 0)"/><use href="#v" transform="matrix(0 1.29 -1.29 0 528.2 0)"/><use href="#v" transform="matrix(-1.63 1.29 -1.29 -1.63 560.9 0)"/><use href="#v" transform="matrix(-3.27 1.29 -1.29 -3.27 593.6 0)"/><use href="#v" transform="matrix(-4.9 1.29 -1.29 -4.9 626.2 0)"/><use href="#v" transform="matrix(-6.54 1.29 -1.29 -6.54 658.9 0)"/><use href="#v" transform="matrix(-8.17 1.29 -1.29 -8.17 691.6 0)"/><use href="#v" transform="matrix(-9.8 1.29 -1.29 -9.8 724.3 0)"/><use href="#v" transform="matrix(-11.44 1.29 -1.29 -11.44 757 0)"/><use href="#v" transform="matrix(-13.07 1.29 -1.29 -13.07 789.6 0)"/><use href="#v" transform="matrix(-14.71 1.29 -1.29 -14.71 822.3 0)"/><use href="#v" transform="matrix(-16.34 1.29 -1.29 -16.34 855 0)"/>
    </g>
    <g transform="translate(0 533.6)">
      <use href="#v" transform="matrix(24.51 0 0 24.51 38 0)"/><use href="#v" transform="matrix(22.88 0 0 22.88 70.7 0)"/><use href="#v" transform="matrix(21.24 0 0 21.24 103.4 0)"/><use href="#v" transform="matrix(19.61 0 0 19.61 136 0)"/><use href="#v" transform="matrix(17.98 0 0 17.98 168.7 0)"/><use href="#v" transform="matrix(16.34 0 0 16.34 201.4 0)"/><use href="#v" transform="matrix(14.71 0 0 14.71 234.1 0)"/><use href="#v" transform="matrix(13.07 0 0 13.07 266.8 0)"/><use href="#v" transform="matrix(11.44 0 0 11.44 299.4 0)"/><use href="#v" transform="matrix(9.8 0 0 9.8 332.1 0)"/><use href="#v" transform="matrix(8.17 0 0 8.17 364.8 0)"/><use href="#v" transform="matrix(6.54 0 0 6.54 397.5 0)"/><use href="#v" transform="matrix(4.9 0 0 4.9 430.2 0)"/><use href="#v" transform="matrix(3.27 0 0 3.27 462.8 0)"/><use href="#v" transform="matrix(1.63 0 0 1.63 495.5 0)"/><use href="#v" transform="matrix(-1.63 0 0 -1.63 560.9 0)"/><use href="#v" transform="matrix(-3.27 0 0 -3.27 593.6 0)"/><use href="#v" transform="matrix(-4.9 0 0 -4.9 626.2 0)"/><use href="#v" transform="matrix(-6.54 0 0 -6.54 658.9 0)"/><use href="#v" transform="matrix(-8.17 0 0 -8.17 691.6 0)"/><use href="#v" transform="matrix(-9.8 0 0 -9.8 724.3 0)"/><use href="#v" transform="matrix(-11.44 0 0 -11.44 757 0)"/><use href="#v" transform="matrix(-13.07 0 0 -13.07 789.6 0)"/><use href="#v" transform="matrix(-14.71 0 0 -14.71 822.3 0)"/><use href="#v" transform="matrix(-16.34 0 0 -16.34 855 0)"/>
    </g>
    <g transform="translate(0 559.5)">
      <use href="#v" transform="matrix(24.51 -1.29 1.29 24.51 38 0)"/><use href="#v" transform="matrix(22.88 -1.29 1.29 22.88 70.7 0)"/><use href="#v" transform="matrix(21.24 -1.29 1.29 21.24 103.4 0)"/><use href="#v" transform="matrix(19.61 -1.29 1.29 19.61 136 0)"/><use href="#v" transform="matrix(17.98 -1.29 1.29 17.98 168.7 0)"/><use href="#v" transform="matrix(16.34 -1.29 1.29 16.34 201.4 0)"/><use href="#v" transform="matrix(14.71 -1.29 1.29 14.71 234.1 0)"/><use href="#v" transform="matrix(13.07 -1.29 1.29 13.07 266.8 0)"/><use href="#v" transform="matrix(11.44 -1.29 1.29 11.44 299.4 0)"/><use href="#v" transform="matrix(9.8 -1.29 1.29 9.8 332.1 0)"/><use href="#v" transform="matrix(8.17 -1.29 1.29 8.17 364.8 0)"/><use href="#v" transform="matrix(6.54 -1.29 1.29 6.54 397.5 0)"/><use href="#v" transform="matrix(4.9 -1.29 1.29 4.9 430.2 0)"/><use href="#v" transform="matrix(3.27 -1.29 1.29 3.27 462.8 0)"/><use href="#v" transform="matrix(1.63 -1.29 1.29 1.63 495.5 0)"/><use href="#v" transform="matrix(0 -1.29 1.29 0 528.2 0)"/><use href="#v" transform="matrix(-1.63 -1.29 1.29 -1.63 560.9 0)"/><use href="#v" transform="matrix(-3.27 -1.29 1.29 -3.27 593.6 0)"/><use href="#v" transform="matrix(-4.9 -1.29 1.29 -4.9 626.2 0)"/><use href="#v" transform="matrix(-6.54 -1.29 1.29 -6.54 658.9 0)"/><use href="#v" transform="matrix(-8.17 -1.29 1.29 -8.17 691.6 0)"/><use href="#v" transform="matrix(-9.8 -1.29 1.29 -9.8 724.3 0)"/><use href="#v" transform="matrix(-11.44 -1.29 1.29 -11.44 757 0)"/><use href="#v" transform="matrix(-13.07 -1.29 1.29 -13.07 789.6 0)"/><use href="#v" transform="matrix(-14.71 -1.29 1.29 -14.71 822.3 0)"/><use href="#v" transform="matrix(-16.34 -1.29 1.29 -16.34 855 0)"/>
    </g>
    <g transform="translate(0 585.4)">
      <use href="#v" transform="matrix(24.51 -2.59 2.59 24.51 38 0)"/><use href="#v" transform="matrix(22.88 -2.59 2.59 22.88 70.7 0)"/><use href="#v" transform="matrix(21.24 -2.59 2.59 21.24 103.4 0)"/><use href="#v" transform="matrix(19.61 -2.59 2.59 19.61 136 0)"/><use href="#v" transform="matrix(17.98 -2.59 2.59 17.98 168.7 0)"/><use href="#v" transform="matrix(16.34 -2.59 2.59 16.34 201.4 0)"/><use href="#v" transform="matrix(14.71 -2.59 2.59 14.71 234.1 0)"/><use href="#v" transform="matrix(13.07 -2.59 2.59 13.07 266.8 0)"/><use href="#v" transform="matrix(11.44 -2.59 2.59 11.44 299.4 0)"/><use href="#v" transform="matrix(9.8 -2.59 2.59 9.8 332.1 0)"/><use href="#v" transform="matrix(8.17 -2.59 2.59 8.17 364.8 0)"/><use href="#v" transform="matrix(6.54 -2.59 2.59 6.54 397.5 0)"/><use href="#v" transform="matrix(4.9 -2.59 2.59 4.9 430.2 0)"/><use href="#v" transform="matrix(3.27 -2.59 2.59 3.27 462.8 0)"/><use href="#v" transform="matrix(1.63 -2.59 2.59 1.63 495.5 0)"/><use href="#v" transform="matrix(0 -2.59 2.59 0 528.2 0)"/><use href="#v" transform="matrix(-1.63 -2.59 2.59 -1.63 560.9 0)"/><use href="#v" transform="matrix(-3.27 -2.59 2.59 -3.27 593.6 0)"/><use href="#v" transform="matrix(-4.9 -2.59 2.59 -4.9 626.2 0)"/><use href="#v" transform="matrix(-6.54 -2.59 2.59 -6.54 658.9 0)"/><use href="#v" transform="matrix(-8.17 -2.59 2.59 -8.17 691.6 0)"/><use href="#v" transform="matrix(-9.8 -2.59 2.59 -9.8 724.3 0)"/><use href="#v" transform="matrix(-11.44 -2.59 2.59 -11.44 757 0)"/><use href="#v" transform="matrix(-13.07 -2.59 2.59 -13.07 789.6 0)"/><use href="#v" transform="matrix(-14.71 -2.59 2.59 -14.71 822.3 0)"/><use href="#v" transform="matrix(-16.34 -2.59 2.59 -16.34 855 0)"/>
    </g>
    <g transform="translate(0 611.2)">
      <use href="#v" transform="matrix(24.51 -3.88 3.88 24.51 38 0)"/><use href="#v" transform="matrix(22.88 -3.88 3.88 22.88 70.7 0)"/><use href="#v" transform="matrix(21.24 -3.88 3.88 21.24 103.4 0)"/><use href="#v" transform="matrix(19.61 -3.88 3.88 19.61 136 0)"/><use href="#v" transform="matrix(17.98 -3.88 3.88 17.98 168.7 0)"/><use href="#v" transform="matrix(16.34 -3.88 3.88 16.34 201.4 0)"/><use href="#v" transform="matrix(14.71 -3.88 3.88 14.71 234.1 0)"/><use href="#v" transform="matrix(13.07 -3.88 3.88 13.07 266.8 0)"/><use href="#v" transform="matrix(11.44 -3.88 3.88 11.44 299.4 0)"/><use href="#v" transform="matrix(9.8 -3.88 3.88 9.8 332.1 0)"/><use href="#v" transform="matrix(8.17 -3.88 3.88 8.17 364.8 0)"/><use href="#v" transform="matrix(6.54 -3.88 3.88 6.54 397.5 0)"/><use href="#v" transform="matrix(4.9 -3.88 3.88 4.9 430.2 0)"/><use href="#v" transform="matrix(3.27 -3.88 3.88 3.27 462.8 0)"/><use href="#v" transform="matrix(1.63 -3.88 3.88 1.63 495.5 0)"/><use href="#v" transform="matrix(0 -3.88 3.88 0 528.2 0)"/><use href="#v" transform="matrix(-1.63 -3.88 3.88 -1.63 560.9 0)"/><use href="#v" transform="matrix(-3.27 -3.88 3.88 -3.27 593.6 0)"/><use href="#v" transform="matrix(-4.9 -3.88 3.88 -4.9 626.2 0)"/><use href="#v" transform="matrix(-6.54 -3.88 3.88 -6.54 658.9 0)"/><use href="#v" transform="matrix(-8.17 -3.88 3.88 -8.17 691.6 0)"/><use href="#v" transform="matrix(-9.8 -3.88 3.88 -9.8 724.3 0)"/><use href="#v" transform="matrix(-11.44 -3.88 3.88 -11.44 757 0)"/><use href="#v" transform="matrix(-13.07 -3.88 3.88 -13.07 789.6 0)"/><use href="#v" transform="matrix(-14.71 -3.88 3.88 -14.71 822.3 0)"/><use href="#v" transform="matrix(-16.34 -3.88 3.88 -16.34 855 0)"/>
    </g>
    <g transform="translate(0 637.1)">
      <use href="#v" transform="matrix(24.51 -5.18 5.18 24.51 38 0)"/><use href="#v" transform="matrix(22.88 -5.18 5.18 22.88 70.7 0)"/><use href="#v" transform="matrix(21.24 -5.18 5.18 21.24 103.4 0)"/><use href="#v" transform="matrix(19.61 -5.18 5.18 19.61 136 0)"/><use href="#v" transform="matrix(17.98 -5.18 5.18 17.98 168.7 0)"/><use href="#v" transform="matrix(16.34 -5.18 5.18 16.34 201.4 0)"/><use href="#v" transform="matrix(14.71 -5.18 5.18 14.71 234.1 0)"/><use href="#v" transform="matrix(13.07 -5.18 5.18 13.07 266.8 0)"/><use href="#v" transform="matrix(11.44 -5.18 5.18 11.44 299.4 0)"/><use href="#v" transform="matrix(9.8 -5.18 5.18 9.8 332.1 0)"/><use href="#v" transform="matrix(8.17 -5.18 5.18 8.17 364.8 0)"/><use href="#v" transform="matrix(6.54 -5.18 5.18 6.54 397.5 0)"/><use href="#v" transform="matrix(4.9 -5.18 5.18 4.9 430.2 0)"/><use href="#v" transform="matrix(3.27 -5.18 5.18 3.27 462.8 0)"/><use href="#v" transform="matrix(1.63 -5.18 5.18 1.63 495.5 0)"/><use href="#v" transform="matrix(0 -5.18 5.18 0 528.2 0)"/><use href="#v" transform="matrix(-1.63 -5.18 5.18 -1.63 560.9 0)"/><use href="#v" transform="matrix(-3.27 -5.18 5.18 -3.27 593.6 0)"/><use href="#v" transform="matrix(-4.9 -5.18 5.18 -4.9 626.2 0)"/><use href="#v" transform="matrix(-6.54 -5.18 5.18 -6.54 658.9 0)"/><use href="#v" transform="matrix(-8.17 -5.18 5.18 -8.17 691.6 0)"/><use href="#v" transform="matrix(-9.8 -5.18 5.18 -9.8 724.3 0)"/><use href="#v" transform="matrix(-11.44 -5.18 5.18 -11.44 757 0)"/><use href="#v" transform="matrix(-13.07 -5.18 5.18 -13.07 789.6 0)"/><use href="#v" transform="matrix(-14.71 -5.18 5.18 -14.71 822.3 0)"/><use href="#v" transform="matrix(-16.34 -5.18 5.18 -16.34 855 0)"/>
    </g>
    <g transform="translate(0 663)">
      <use href="#v" transform="matrix(24.51 -6.47 6.47 24.51 38 0)"/><use href="#v" transform="matrix(22.88 -6.47 6.47 22.88 70.7 0)"/><use href="#v" transform="matrix(21.24 -6.47 6.47 21.24 103.4 0)"/><use href="#v" transform="matrix(19.61 -6.47 6.47 19.61 136 0)"/><use href="#v" transform="matrix(17.98 -6.47 6.47 17.98 168.7 0)"/><use href="#v" transform="matrix(16.34 -6.47 6.47 16.34 201.4 0)"/><use href="#v" transform="matrix(14.71 -6.47 6.47 14.71 234.1 0)"/><use href="#v" transform="matrix(13.07 -6.47 6.47 13.07 266.8 0)"/><use href="#v" transform="matrix(11.44 -6.47 6.47 11.44 299.4 0)"/><use href="#v" transform="matrix(9.8 -6.47 6.47 9.8 332.1 0)"/><use href="#v" transform="matrix(8.17 -6.47 6.47 8.17 364.8 0)"/><use href="#v" transform="matrix(6.54 -6.47 6.47 6.54 397.5 0)"/><use href="#v" transform="matrix(4.9 -6.47 6.47 4.9 430.2 0)"/><use href="#v" transform="matrix(3.27 -6.47 6.47 3.27 462.8 0)"/><use href="#v" transform="matrix(1.63 -6.47 6.47 1.63 495.5 0)"/><use href="#v" transform="matrix(0 -6.47 6.47 0 528.2 0)"/><use href="#v" transform="matrix(-1.63 -6.47 6.47 -1.63 560.9 0)"/><use href="#v" transform="matrix(-3.27 -6.47 6.47 -3.27 593.6 0)"/><use href="#v" transform="matrix(-4.9 -6.47 6.47 -4.9 626.2 0)"/><use href="#v" transform="matrix(-6.54 -6.47 6.47 -6.54 658.9 0)"/><use href="#v" transform="matrix(-8.17 -6.47 6.47 -8.17 691.6 0)"/><use href="#v" transform="matrix(-9.8 -6.47 6.47 -9.8 724.3 0)"/><use href="#v" transform="matrix(-11.44 -6.47 6.47 -11.44 757 0)"/><use href="#v" transform="matrix(-13.07 -6.47 6.47 -13.07 789.6 0)"/><use href="#v" transform="matrix(-14.71 -6.47 6.47 -14.71 822.3 0)"/><use href="#v" transform="matrix(-16.34 -6.47 6.47 -16.34 855 0)"/>
    </g>
  </g>

  <!-- obstacle: tint over the vectors, outlines and label -->
  <g id="obstacle">
    <ellipse class="obs-tint" cx="385" cy="340.5" rx="77" ry="61.5"/>
    <ellipse class="obs-tint" cx="509" cy="340.5" rx="77" ry="61.5"/>
    <ellipse class="obs-edge" cx="385" cy="340.5" rx="77" ry="61.5"/>
    <ellipse class="obs-edge" cx="509" cy="340.5" rx="77" ry="61.5"/>
    <text class="callout-text" x="332" y="364" font-size="62" textLength="228" lengthAdjust="spacingAndGlyphs">Obstacle</text>
  </g>

  <!-- start callout and point -->
  <g id="start">
    <polygon class="callout" points="468,146 532,82 532,113 648,113 648,178 532,178 532,210"/>
    <text class="callout-text" x="527" y="162" font-size="45" textLength="95" lengthAdjust="spacingAndGlyphs">Start</text>
    <circle class="pt" cx="447.5" cy="145.5" r="9.5"/>
  </g>

  <!-- goal callout and point -->
  <g id="goal">
    <polygon class="callout" points="318,503 434,503 434,472 500,535 434,601 434,568 318,568"/>
    <text class="callout-text" x="348" y="552" font-size="45" textLength="87" lengthAdjust="spacingAndGlyphs">Goal</text>
    <circle class="pt" cx="527" cy="536" r="9.5"/>
  </g>
</svg>
